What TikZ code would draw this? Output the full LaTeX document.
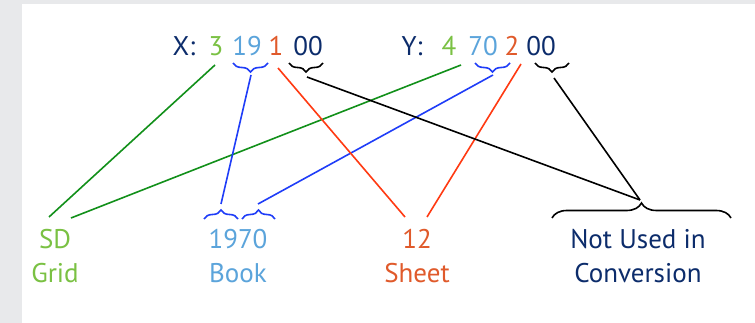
\documentclass[tikz,border=0pt]{standalone}
\usepackage{fontspec}
\setmainfont{PT Sans}
\usetikzlibrary{decorations.pathreplacing, calc}

\definecolor{gridgreen}{HTML}{7AC143}
\definecolor{linegreen}{HTML}{12901A}
\definecolor{booktxt}{HTML}{5BA4DB}
\definecolor{lineblue}{HTML}{1F3DF8}
\definecolor{sheettxt}{HTML}{E05A2B}
\definecolor{linered}{HTML}{FF3A12}
\definecolor{navy}{HTML}{0C2C6B}
\definecolor{panelgray}{HTML}{E8E9EB}

\begin{document}
\begin{tikzpicture}[x=1pt, y=1pt,
  lbl/.style  = {font=\fontsize{27}{34}\selectfont, inner sep=0pt, anchor=base},
  link/.style = {line width=1.6pt},
  brc/.style  = {decorate, decoration={brace, amplitude=#1}, line width=1.6pt},
  brc/.default = 9,
]

%% ── panel ──────────────────────────────────────────────────────────────────
\fill[panelgray] (0,0) rectangle (755,-323);
\fill[white] (22,-4) rectangle (755,-323);
\useasboundingbox (0,0) rectangle (755,-323);

%% ── grid reference ─────────────────────────────────────────────────────────
\node[lbl, navy]      (xlab) at (184,-56) {X:};
\node[lbl, gridgreen] (x3)   at (216,-56) {3};
\node[lbl, booktxt]   (x19)  at (247,-56) {19};
\node[lbl, sheettxt]  (x1)   at (276,-56) {1};
\node[lbl, navy]      (x00)  at (308,-56) {00};

\node[lbl, navy]      (ylab) at (412,-56) {Y:};
\node[lbl, gridgreen] (y4)   at (449,-56) {4};
\node[lbl, booktxt]   (y70)  at (483,-56) {70};
\node[lbl, sheettxt]  (y2)   at (512,-56) {2};
\node[lbl, navy]      (y00)  at (541,-56) {00};

%% ── meanings (base = last line) ────────────────────────────────────────────
\node[lbl, align=center, gridgreen] (sd)     at (55,-282)  {SD\\Grid};
\node[lbl, align=center, booktxt]   (book)   at (238,-282) {1970\\Book};
\node[lbl, align=center, sheettxt]  (sheet)  at (417,-282) {12\\Sheet};
\node[lbl, align=center, navy]      (unused) at (638,-282) {Not Used in\\Conversion};

%% ── braces ─────────────────────────────────────────────────────────────────
\draw[brc, lineblue] (268,-63) -- (233,-63);
\draw[brc]           (323,-63) -- (289,-63);
\draw[brc, lineblue] (510,-63) -- (475,-63);
\draw[brc]           (569,-63) -- (535,-63);

\draw[brc, lineblue] (204,-219) -- (238,-219);
\draw[brc, lineblue] (242,-219) -- (275,-219);
\draw[brc=15]        (552,-218) -- (731,-218);

%% ── link ends ──────────────────────────────────────────────────────────────
\coordinate (x3end)  at (215,-65);
\coordinate (y4end)  at (461,-65);
\coordinate (sdL)    at (49,-217);
\coordinate (sdR)    at (71,-218);

\coordinate (x19tip) at (251,-75);
\coordinate (y70tip) at (493,-75);
\coordinate (bk1tip) at (221,-204);
\coordinate (bk2tip) at (258,-204);

\coordinate (x1end)  at (278,-68);
\coordinate (y2end)  at (521,-64);
\coordinate (shL)    at (405,-217);
\coordinate (shR)    at (427,-217);

\coordinate (x00tip) at (307,-77);
\coordinate (y00tip) at (554,-78);
\coordinate (nutip)  at (640,-200);

%% ── links ──────────────────────────────────────────────────────────────────
\draw[link, linegreen] (x3end) -- (sdL);
\draw[link, linegreen] (y4end) -- (sdR);
\draw[link, lineblue]  (x19tip) -- (bk1tip);
\draw[link, lineblue]  (y70tip) -- (bk2tip);
\draw[link, linered]   (x1end) -- (shL);
\draw[link, linered]   (y2end) -- (shR);
\draw[link]            (x00tip) -- (nutip);
\draw[link]            (y00tip) -- (nutip);

\end{tikzpicture}
\end{document}
